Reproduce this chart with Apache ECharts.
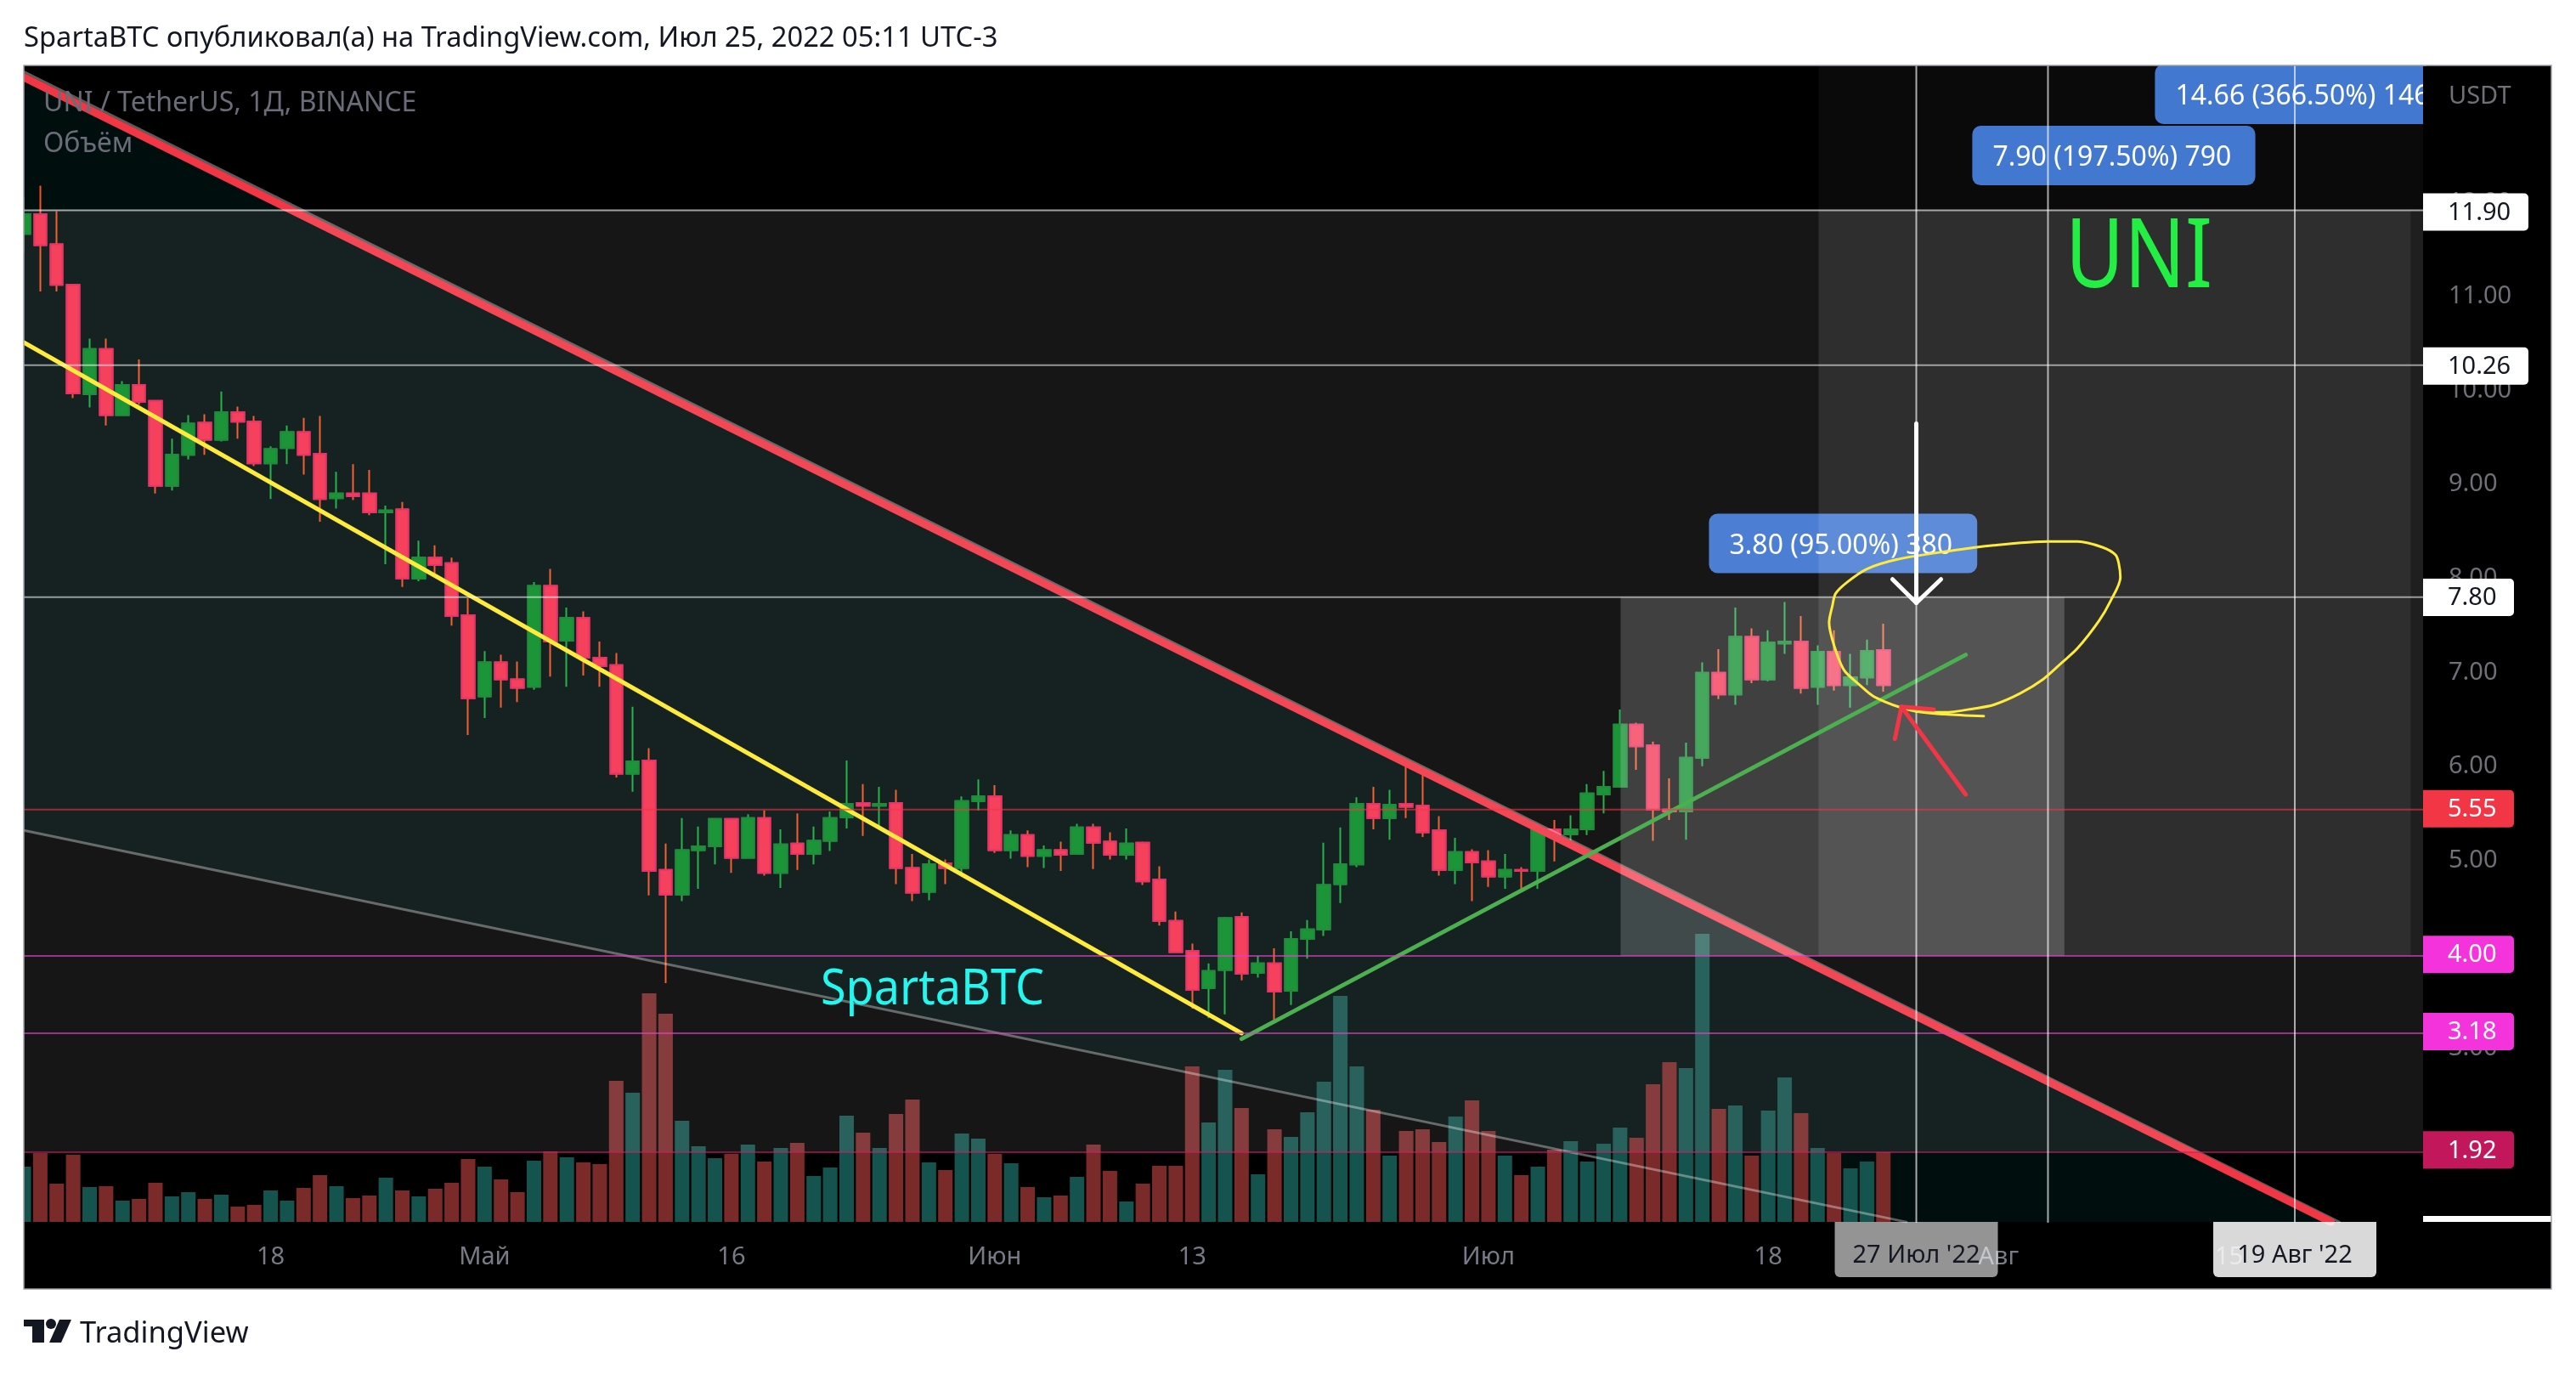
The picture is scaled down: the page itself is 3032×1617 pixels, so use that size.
<!DOCTYPE html>
<html>
<head>
<meta charset="utf-8">
<style>html,body{margin:0;padding:0;background:#fff}#main{width:3032px;height:1617px}</style>
<script src="https://cdn.jsdelivr.net/npm/echarts@6/dist/echarts.min.js"></script>
</head>
<body>
<div id="main"></div>
<script>
// daily candles, 3 Apr 2022 .. 25 Jul 2022
var openPrices = [11.65,11.86,11.54,11.11,9.95,10.43,9.73,10.05,9.88,8.98,9.31,9.65,9.47,9.76,9.66,9.22,9.38,9.55,9.32,8.85,8.90,8.90,8.70,8.73,8.00,8.22,8.16,7.61,6.75,7.11,6.93,6.85,7.92,7.34,7.58,7.16,7.08,5.93,6.07,4.91,4.65,5.12,5.16,5.45,5.04,5.46,4.88,5.19,5.08,5.22,5.47,5.62,5.59,5.62,4.93,4.68,4.98,4.93,5.64,5.69,5.12,5.28,5.06,5.12,5.08,5.36,5.21,5.07,5.20,4.81,4.37,4.05,3.66,3.85,4.41,3.82,3.92,3.63,4.18,4.28,4.76,4.97,5.61,5.46,5.61,5.59,5.33,4.91,5.10,5.00,4.84,4.91,4.90,5.34,5.29,5.34,5.71,5.79,6.45,6.23,5.55,5.53,6.10,7.00,6.77,7.38,6.93,7.31,7.33,6.85,7.22,6.87,6.95,7.24];
var closePrices = [11.86,11.53,11.11,9.96,10.43,9.73,10.05,9.87,8.98,9.31,9.64,9.47,9.76,9.66,9.22,9.37,9.55,9.31,8.84,8.90,8.87,8.70,8.72,8.00,8.22,8.14,7.60,6.73,7.11,6.93,6.84,7.92,7.33,7.58,7.16,7.07,5.93,6.06,4.90,4.65,5.12,5.16,5.45,5.04,5.46,4.88,5.18,5.08,5.22,5.46,5.61,5.59,5.61,4.93,4.67,4.97,4.93,5.64,5.69,5.12,5.28,5.06,5.12,5.07,5.36,5.20,5.07,5.19,4.79,4.37,4.04,3.64,3.84,4.40,3.81,3.92,3.62,4.18,4.28,4.75,4.97,5.61,5.46,5.60,5.58,5.31,4.91,5.10,4.99,4.84,4.91,4.90,5.34,5.29,5.34,5.72,5.79,6.45,6.22,5.55,5.53,6.10,7.00,6.77,7.38,6.93,7.32,7.33,6.84,7.22,6.87,6.95,7.23,6.87];
var lowPrices = [11.45,11.04,11.04,9.91,9.81,9.62,9.72,9.84,8.90,8.93,9.26,9.31,9.45,9.48,9.19,8.84,9.21,9.10,8.60,8.74,8.83,8.67,8.15,7.91,7.97,8.04,7.50,6.34,6.52,6.63,6.69,6.82,6.96,6.85,6.97,6.85,5.89,5.74,4.64,3.71,4.58,4.71,4.97,4.88,5.03,4.85,4.72,4.91,4.97,5.11,5.35,5.27,5.37,4.76,4.58,4.59,4.76,4.88,5.54,5.09,5.03,4.94,4.93,4.90,5.08,4.92,5.02,5.02,4.75,4.32,4.04,3.44,3.34,3.38,3.74,3.77,3.32,3.48,3.97,4.21,4.56,4.94,5.34,5.23,5.46,5.26,4.85,4.76,4.58,4.73,4.71,4.71,4.71,5.00,5.19,5.28,5.51,5.79,5.97,5.22,5.44,5.23,6.01,6.72,6.66,6.89,6.91,7.20,6.78,6.66,6.81,6.63,6.87,6.80];
var highPrices = [12.04,12.16,11.89,11.11,10.54,10.54,10.09,10.32,9.88,9.48,9.73,9.74,9.98,9.82,9.72,9.40,9.62,9.70,9.72,9.13,9.21,9.15,8.77,8.81,8.40,8.35,8.22,7.79,7.23,7.19,7.12,7.96,8.10,7.69,7.65,7.33,7.21,6.64,6.20,5.19,5.46,5.37,5.46,5.45,5.50,5.54,5.34,5.51,5.37,5.53,6.07,5.82,5.79,5.76,5.08,5.02,5.02,5.69,5.87,5.81,5.33,5.33,5.17,5.21,5.40,5.40,5.31,5.35,5.21,4.95,4.47,4.13,3.92,4.41,4.46,4.00,4.08,4.26,4.38,5.20,5.36,5.68,5.79,5.76,6.07,5.92,5.48,5.25,5.13,5.12,5.08,4.94,5.35,5.44,5.49,5.82,5.96,6.61,6.47,6.27,5.88,6.26,7.11,7.25,7.69,7.47,7.45,7.75,7.60,7.29,7.45,7.20,7.35,7.52];
// volume has no scale on the chart, so relative units
var volumes = [65,81,45,79,41,42,25,27,46,30,35,27,32,18,20,37,25,40,55,42,28,31,52,37,30,39,46,74,65,50,35,72,83,76,70,68,166,152,269,245,119,89,75,80,91,71,87,93,54,64,125,105,87,127,144,70,61,104,98,80,69,41,29,31,53,91,60,24,45,66,66,183,117,179,134,56,109,100,129,165,266,183,132,78,107,109,94,124,143,107,78,55,65,85,95,71,92,111,99,162,188,181,339,133,137,78,131,170,128,87,81,63,71,82];

var priceTicks = [2,3,4,5,6,7,8,9,10,11,12];
var priceLevels = [11.90,10.26,7.80,5.55,4.00,3.18,1.92];
var dateTickLabels = {'2022-04-18':'18','2022-05-01':'Май','2022-05-16':'16','2022-06-01':'Июн','2022-06-13':'13','2022-07-01':'Июл','2022-07-18':'18','2022-08-01':'Авг','2022-08-15':'15'};
var crossDays = [115,123,138];
var crossDayLabels = ["27 Июл '22",'',"19 Авг '22"];

// drawings, [bar index, price]
var resistanceLine = [[0,13.31],[140.2,1.18]];
var channelTop = [[0,13.37],[140.7,1.18]];
var channelBottom = [[0,5.33],[114.4,1.18]];
var channelPoints = [[0,13.37],[140.7,1.18],[114.4,1.18],[0,5.33]];
var yellowLine = [[0,10.50],[74,3.18]];
var greenLine = [[74,3.12],[118,7.19]];
var redArrowShaft = [[118,5.71],[114.1,6.64]];
var redArrowHead = [[113.7,6.30],[114.1,6.64],[116.05,6.61]];
var whiteArrowShaft = [[115,9.64],[115,7.74]];
var whiteArrowHead = [[113.55,7.99],[115,7.74],[116.5,7.99]];
var scribble = [[119.1,6.54],[116.7,6.56],[114.7,6.60],[112.5,6.74],[111.5,6.88],[110.6,7.03],[110.0,7.29],[109.7,7.53],[109.9,7.71],[110.1,7.84],[110.8,7.96],[112.0,8.10],[113.8,8.20],[117.0,8.29],[119.7,8.35],[123.1,8.39],[124.8,8.39],[126.3,8.33],[127.1,8.25],[127.3,8.16],[127.4,8.01],[126.8,7.76],[126.1,7.55],[124.8,7.26],[123.8,7.10],[122.7,6.93],[121.3,6.78],[119.7,6.66],[118.5,6.62],[116.7,6.58],[115.1,6.59],[114.1,6.64]];

// zones, [bar from, price top, bar to, price bottom]
var bandZone = [0,11.90,146,1.92];
var rightDimZone = [109.06,13.44,146,4.00];
var rightZone = [109.06,11.90,145.04,4.00];
var targetZone = [97.03,7.80,124,4.00];

// measure boxes, [bar from, price centre, bar to]
var measureBoxes = [[102.4,8.37,118.7],[118.4,12.48,135.6],[129.5,13.13,150]];
var measureTexts = ['3.80 (95.00%) 380','7.90 (197.50%) 790','14.66 (366.50%) 1466'];

var categories = [];
for (var d = 0; d < 147; d++) {
  categories.push(new Date(Date.UTC(2022, 3, 3 + d)).toISOString().slice(0, 10));
}

var FONT = '"Noto Sans"';
var PANE_RIGHT = 2852;

function rounded(x, y, w, h, r, fill) {
  return { type: 'rect', shape: { x: x, y: y, width: w, height: h, r: r }, style: { fill: fill } };
}
function label(text, x, y, fill, size, align) {
  return { type: 'text', style: { text: text, x: x, y: y, fill: fill, fontSize: size, fontFamily: FONT, align: align || 'left', verticalAlign: 'middle' } };
}
function lineSeries(name, data, color, width, z, smooth) {
  return {
    name: name, type: 'line', xAxisIndex: 1, yAxisIndex: 0, data: data, z: z, silent: true,
    showSymbol: false, symbol: 'none', smooth: smooth || false,
    lineStyle: { color: color, width: width, cap: 'round', join: 'round' }
  };
}
function zoneSeries(name, zone, color, z) {
  return {
    name: name, type: 'custom', xAxisIndex: 1, yAxisIndex: 0, silent: true, z: z, clip: true,
    data: [zone],
    renderItem: function (params, api) {
      var a = api.coord([api.value(0), api.value(1)]);
      var b = api.coord([api.value(2), api.value(3)]);
      return { type: 'rect', shape: { x: a[0], y: a[1], width: b[0] - a[0], height: b[1] - a[1] }, style: { fill: color } };
    }
  };
}

var candleData = openPrices.map(function (o, i) { return [o, closePrices[i], lowPrices[i], highPrices[i]]; });
// second candle layer has no wicks, wick and body border have different colours on the original
var bodyData = openPrices.map(function (o, i) { return [o, closePrices[i], Math.min(o, closePrices[i]), Math.max(o, closePrices[i])]; });

var series = [
  {
    name: 'channel', type: 'custom', xAxisIndex: 1, yAxisIndex: 0, silent: true, z: 1, data: [0],
    renderItem: function (params, api) {
      return { type: 'polygon', shape: { points: channelPoints.map(function (p) { return api.coord(p); }) }, style: { fill: 'rgba(0,230,230,0.06)' } };
    }
  },
  {
    name: 'Объём', type: 'bar', xAxisIndex: 0, yAxisIndex: 2, data: volumes, barWidth: 17, z: 2, silent: true,
    itemStyle: { color: function (p) { return closePrices[p.dataIndex] >= openPrices[p.dataIndex] ? '#15544e' : '#7b2a2a'; } }
  },
  {
    name: 'wicks', type: 'candlestick', xAxisIndex: 0, yAxisIndex: 0, data: candleData, barWidth: 15, z: 3, silent: true,
    itemStyle: { color: '#078c27', color0: '#f6304e', borderColor: '#12ac3a', borderColor0: '#f4511e', borderWidth: 2 }
  },
  {
    name: 'UNI / TetherUS', type: 'candlestick', xAxisIndex: 0, yAxisIndex: 0, data: bodyData, barWidth: 15, z: 3, silent: true,
    itemStyle: { color: '#078c27', color0: '#f6304e', borderColor: '#0a8029', borderColor0: '#e91e63', borderWidth: 2 }
  },
  {
    name: 'measure', type: 'custom', xAxisIndex: 1, yAxisIndex: 0, silent: true, z: 4, clip: true, data: measureBoxes,
    renderItem: function (params, api) {
      var a = api.coord([api.value(0), api.value(1)]);
      var b = api.coord([api.value(2), api.value(1)]);
      return {
        type: 'group', children: [
          rounded(a[0], a[1] - 35, b[0] - a[0], 70, 10, '#3c73d0'),
          label(measureTexts[params.dataIndex], a[0] + 24, a[1] + 3, '#fff', 32)
        ]
      };
    }
  },
  lineSeries('channel top', channelTop, 'rgba(255,255,255,0.35)', 3, 4),
  lineSeries('channel bottom', channelBottom, 'rgba(255,255,255,0.35)', 3, 4),
  lineSeries('resistance', resistanceLine, '#f23645', 9, 4),
  zoneSeries('band', bandZone, 'rgba(255,255,255,0.085)', 5),
  zoneSeries('right dim', rightDimZone, 'rgba(255,255,255,0.04)', 5),
  zoneSeries('right', rightZone, 'rgba(255,255,255,0.07)', 5),
  zoneSeries('target', targetZone, 'rgba(255,255,255,0.185)', 5),
  lineSeries('support', yellowLine, '#ffeb3b', 5, 6),
  lineSeries('trend', greenLine, '#4caf50', 5, 6),
  lineSeries('scribble', scribble, '#ffeb3b', 3, 7, 0.3),
  lineSeries('red arrow', redArrowShaft, '#f23645', 5, 7),
  lineSeries('red arrow head', redArrowHead, '#f23645', 5, 7),
  lineSeries('white arrow', whiteArrowShaft, '#ffffff', 5, 7),
  lineSeries('white arrow head', whiteArrowHead, '#ffffff', 5, 7)
];

var levelColors = ['rgba(255,255,255,0.62)', 'rgba(255,255,255,0.55)', 'rgba(255,255,255,0.55)', 'rgba(242,54,69,0.6)', 'rgba(224,64,200,0.65)', 'rgba(224,64,200,0.65)', 'rgba(200,30,100,0.6)'];
priceLevels.forEach(function (p, i) {
  series.push(lineSeries('level ' + p, [[0, p], [146, p]], levelColors[i], 2, 6));
});
crossDays.forEach(function (x) {
  series.push(lineSeries('day ' + x, [[x, 1.18], [x, 13.44]], 'rgba(255,255,255,0.65)', 2, 6));
});

var tagFills = ['#ffffff', '#ffffff', '#ffffff', '#f23645', '#f433dc', '#f433dc', '#c2185b'];
var tagInks = ['#131722', '#131722', '#131722', '#ffffff', '#ffffff', '#ffffff', '#ffffff'];
var tagWidths = [124, 124, 107, 107, 107, 107, 107];
series.push({
  name: 'price tags', type: 'custom', xAxisIndex: 1, yAxisIndex: 1, silent: true, z: 30, clip: false,
  data: priceLevels.map(function (p) { return [146, p]; }),
  renderItem: function (params, api) {
    var i = params.dataIndex;
    var y = api.coord([146, api.value(1)])[1];
    return {
      type: 'group', children: [
        rounded(PANE_RIGHT, y - 22, tagWidths[i], 44, [0, 5, 5, 0], tagFills[i]),
        label(api.value(1).toFixed(2), PANE_RIGHT + 29, y + 1, tagInks[i], 29)
      ]
    };
  }
});
var dateTagFills = ['rgba(255,255,255,0.58)', '', 'rgba(255,255,255,0.85)'];
series.push({
  name: 'date tags', type: 'custom', xAxisIndex: 1, yAxisIndex: 0, silent: true, z: 30, clip: false,
  data: crossDays.map(function (x) { return [x, 1.18]; }),
  renderItem: function (params, api) {
    var i = params.dataIndex;
    if (!crossDayLabels[i]) return;
    var x = api.coord([api.value(0), 1.18])[0];
    return {
      type: 'group', children: [
        rounded(x - 96, 1438, 192, 65, [0, 0, 6, 6], dateTagFills[i]),
        label(crossDayLabels[i], x, 1478, '#131722', 29, 'center')
      ]
    };
  }
});

var option = {
  animation: false,
  backgroundColor: '#ffffff',
  title: {
    text: 'SpartaBTC опубликовал(а) на TradingView.com, Июл 25, 2022 05:11 UTC-3',
    left: 28, top: 29, padding: 0,
    textStyle: { color: '#131722', fontSize: 32.7, fontWeight: 'normal', fontFamily: FONT }
  },
  grid: { left: 28, top: 77, width: 2828, height: 1361, containLabel: false },
  xAxis: [
    {
      type: 'category', data: categories, boundaryGap: false, position: 'bottom',
      axisLine: { show: false }, axisTick: { show: false }, splitLine: { show: false },
      axisLabel: {
        show: true, margin: 27, color: '#787b86', fontSize: 29, fontFamily: FONT, verticalAlign: 'top',
        interval: function (i, v) { return v in dateTickLabels; },
        formatter: function (v) { return dateTickLabels[v]; }
      }
    },
    { type: 'value', min: 0, max: 146, show: false, splitLine: { show: false } }
  ],
  yAxis: [
    { type: 'value', min: 1.181, max: 13.435, show: false, scale: true, splitLine: { show: false } },
    {
      // labels sit a touch off the drawing scale on the original
      type: 'value', min: 1.154, max: 13.459, position: 'right', scale: true,
      axisLine: { show: false }, axisTick: { show: false }, splitLine: { show: false },
      axisLabel: {
        margin: 26, color: '#6f7078', fontSize: 29, fontFamily: FONT, align: 'left',
        customValues: priceTicks,
        formatter: function (v) { return v.toFixed(2); }
      }
    },
    { type: 'value', min: 0, max: 1361, show: false, splitLine: { show: false } }
  ],
  series: series,
  graphic: [
    { type: 'rect', z: -10, shape: { x: 28, y: 77, width: 2975, height: 1440 }, style: { fill: '#000000' } },
    // first candle and bar stick out past the pane edge, cut them here
    { type: 'rect', z: 20, shape: { x: 0, y: 77, width: 28, height: 1440 }, style: { fill: '#ffffff' } },
    { type: 'rect', z: 20, shape: { x: 2852, y: 78, width: 6, height: 1353 }, style: { fill: '#000000' } },
    { type: 'rect', z: 20, shape: { x: 2852, y: 1431, width: 151, height: 7 }, style: { fill: '#ffffff' } },
    { type: 'rect', z: 21, shape: { x: 28, y: 77, width: 2975, height: 1440 }, style: { fill: 'none', stroke: '#a0a3ab', lineWidth: 1.5 } },
    { type: 'text', z: 21, style: { text: 'USDT', x: 2882, y: 114, fill: '#6f7078', fontSize: 29, fontFamily: FONT, verticalAlign: 'middle' } },
    { type: 'text', z: 10, style: { text: 'UNI / TetherUS, 1Д, BINANCE', x: 51, y: 122, fill: '#6a6d78', fontSize: 32, fontFamily: FONT, verticalAlign: 'middle' } },
    { type: 'text', z: 10, style: { text: 'Объём', x: 51, y: 170, fill: '#6a6d78', fontSize: 32, fontFamily: FONT, verticalAlign: 'middle' } },
    { type: 'text', z: 10, x: 2431, y: 306, scaleX: 0.83, style: { text: 'UNI', x: 0, y: 0, fill: '#22ee44', fontSize: 114, fontFamily: FONT, verticalAlign: 'middle' } },
    { type: 'text', z: 10, x: 966, y: 1165, scaleX: 0.93, style: { text: 'SpartaBTC', x: 0, y: 0, fill: '#22f8ef', fontSize: 58, fontFamily: FONT, verticalAlign: 'middle' } },
    // TradingView mark
    { type: 'polygon', shape: { points: [[28, 1553], [52, 1553], [52, 1580], [38, 1580], [38, 1561], [28, 1561]] }, style: { fill: '#131722' } },
    { type: 'circle', shape: { cx: 60, cy: 1558, r: 6 }, style: { fill: '#131722' } },
    { type: 'polygon', shape: { points: [[70, 1553], [84, 1553], [72, 1580], [58, 1580]] }, style: { fill: '#131722' } },
    { type: 'text', style: { text: 'TradingView', x: 94, y: 1570, fill: '#131722', fontSize: 34.5, fontFamily: FONT, verticalAlign: 'middle' } }
  ]
};

var myChart = echarts.init(document.getElementById('main'));
myChart.setOption(option);
</script>
</body>
</html>
